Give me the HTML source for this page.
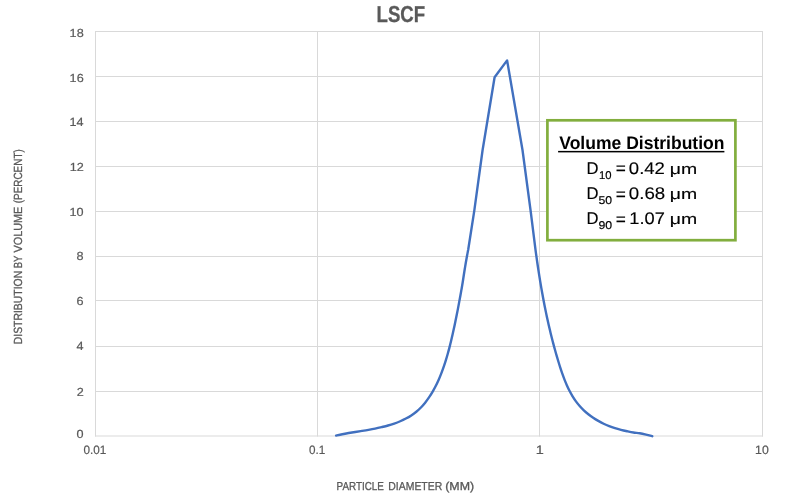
<!DOCTYPE html><html><head><meta charset="utf-8"><style>html,body{margin:0;padding:0;background:#fff;width:800px;height:495px;overflow:hidden}svg{display:block}text{font-family:"Liberation Sans",sans-serif;text-rendering:geometricPrecision}</style></head><body>
<svg width="800" height="495" viewBox="0 0 800 495">
<defs><filter id="gs" x="0" y="0" width="800" height="495" filterUnits="userSpaceOnUse"><feColorMatrix type="saturate" values="0"/></filter></defs>
<rect width="800" height="495" fill="#fff"/>
<path d="M95 31.5H763 M95 76.5H763 M95 121.5H763 M95 166.5H763 M95 211.5H763 M95 256.5H763 M95 300.5H763 M95 346.5H763 M95 391.5H763 M95 436.0H763 M95.5 31V436.5 M317.5 31V436.5 M539.5 31V436.5 M762.5 31V436.5" stroke="#d9d9d9" stroke-width="1" fill="none"/>
<path d="M336.09 435.56 C337.12 435.33 340.20 434.62 342.30 434.20 C344.40 433.78 346.54 433.41 348.70 433.04 C350.86 432.67 353.05 432.33 355.24 431.98 C357.43 431.63 359.65 431.30 361.86 430.94 C364.07 430.58 366.29 430.22 368.50 429.82 C370.71 429.42 372.93 429.01 375.12 428.56 C377.31 428.11 379.49 427.61 381.64 427.11 C383.79 426.60 385.93 426.10 388.03 425.51 C390.13 424.93 392.20 424.28 394.23 423.58 C396.26 422.87 398.25 422.11 400.20 421.27 C402.14 420.43 404.05 419.53 405.90 418.56 C407.75 417.58 409.54 416.54 411.28 415.41 C413.01 414.28 414.70 413.12 416.31 411.80 C417.92 410.49 419.45 409.03 420.93 407.51 C422.41 405.99 423.81 404.34 425.16 402.67 C426.51 400.99 427.78 399.23 429.01 397.43 C430.24 395.63 431.40 393.77 432.52 391.86 C433.63 389.96 434.69 388.00 435.70 386.00 C436.71 384.01 437.67 381.97 438.59 379.90 C439.51 377.83 440.38 375.71 441.21 373.59 C442.04 371.46 442.83 369.30 443.58 367.13 C444.33 364.97 445.05 362.77 445.73 360.58 C446.42 358.39 447.06 356.19 447.69 353.98 C448.31 351.78 448.91 349.57 449.48 347.37 C450.05 345.17 450.60 342.97 451.12 340.78 C451.64 338.58 452.14 336.39 452.63 334.21 C453.12 332.02 453.59 329.84 454.07 327.66 C454.54 325.48 455.02 323.29 455.48 321.11 C455.93 318.94 456.37 316.77 456.80 314.60 C457.23 312.43 457.65 310.28 458.06 308.12 C458.47 305.96 458.87 303.80 459.27 301.64 C459.67 299.48 460.06 297.32 460.45 295.16 C460.84 293.00 461.25 290.85 461.62 288.69 C462.00 286.53 462.36 284.37 462.71 282.21 C463.05 280.05 463.36 277.90 463.70 275.74 C464.03 273.58 464.37 271.41 464.72 269.25 C465.08 267.09 465.43 264.93 465.80 262.77 C466.18 260.61 466.56 258.44 466.95 256.27 C467.35 254.10 467.99 250.84 468.19 249.76 L474.3 210.6 L482.6 150 L494.6 77.2 L507.1 60.4 L522.5 150 L530.6 210.6 L535.51 249.87 C535.65 250.93 536.09 254.10 536.38 256.21 C536.67 258.32 536.97 260.42 537.28 262.52 C537.59 264.62 537.90 266.73 538.22 268.82 C538.54 270.91 538.86 273.00 539.19 275.09 C539.52 277.18 539.86 279.26 540.20 281.34 C540.54 283.42 540.89 285.50 541.25 287.58 C541.61 289.66 541.98 291.73 542.35 293.80 C542.73 295.87 543.11 297.94 543.50 300.01 C543.89 302.08 544.29 304.14 544.70 306.20 C545.11 308.26 545.52 310.32 545.95 312.38 C546.38 314.44 546.81 316.49 547.26 318.54 C547.71 320.59 548.17 322.65 548.64 324.70 C549.11 326.75 549.59 328.80 550.08 330.85 C550.57 332.90 551.07 334.94 551.58 336.99 C552.09 339.04 552.62 341.08 553.16 343.12 C553.70 345.16 554.26 347.21 554.82 349.25 C555.38 351.29 555.96 353.34 556.55 355.38 C557.14 357.42 557.75 359.46 558.37 361.50 C558.99 363.54 559.61 365.58 560.27 367.61 C560.93 369.64 561.60 371.67 562.31 373.67 C563.02 375.67 563.74 377.66 564.51 379.62 C565.28 381.58 566.09 383.53 566.94 385.43 C567.79 387.33 568.68 389.20 569.62 391.02 C570.56 392.84 571.55 394.64 572.60 396.37 C573.65 398.10 574.76 399.78 575.94 401.40 C577.12 403.02 578.36 404.59 579.67 406.08 C580.98 407.57 582.36 408.99 583.81 410.35 C585.25 411.71 586.78 413.00 588.34 414.24 C589.90 415.48 591.52 416.65 593.18 417.76 C594.84 418.87 596.55 419.92 598.29 420.91 C600.03 421.90 601.82 422.85 603.63 423.72 C605.44 424.59 607.29 425.41 609.18 426.15 C611.07 426.89 613.01 427.56 614.98 428.18 C616.95 428.80 618.95 429.34 620.98 429.86 C623.01 430.38 625.07 430.83 627.14 431.28 C629.21 431.73 631.30 432.20 633.40 432.54 C635.50 432.88 637.61 432.96 639.71 433.30 C641.81 433.64 643.92 434.12 646.02 434.60 C648.12 435.08 651.24 435.93 652.28 436.20" stroke="#4170bf" stroke-width="2.4" fill="none" stroke-linejoin="round" stroke-linecap="round"/>
<rect x="547.4" y="120.3" width="188" height="119.9" fill="#fff" stroke="#82ae3e" stroke-width="2.7"/>
<g filter="url(#gs)"><text transform="translate(69.61 36.85) scale(1.0750 1)" font-size="11.76" fill="#595959" stroke="#595959" stroke-width="0.2">18</text><text transform="translate(69.61 81.90) scale(1.0750 1)" font-size="11.76" fill="#595959" stroke="#595959" stroke-width="0.2">16</text><text transform="translate(69.42 126.00) scale(1.0596 1)" font-size="11.93" fill="#595959" stroke="#595959" stroke-width="0.2">14</text><text transform="translate(69.70 171.20) scale(1.0750 1)" font-size="11.76" fill="#595959" stroke="#595959" stroke-width="0.2">12</text><text transform="translate(69.55 215.85) scale(1.0750 1)" font-size="11.76" fill="#595959" stroke="#595959" stroke-width="0.2">10</text><text transform="translate(76.62 260.00) scale(1.0750 1)" font-size="11.76" fill="#595959" stroke="#595959" stroke-width="0.2">8</text><text transform="translate(76.62 305.20) scale(1.0750 1)" font-size="11.76" fill="#595959" stroke="#595959" stroke-width="0.2">6</text><text transform="translate(76.43 350.00) scale(1.0596 1)" font-size="11.93" fill="#595959" stroke="#595959" stroke-width="0.2">4</text><text transform="translate(76.72 396.05) scale(1.0750 1)" font-size="11.76" fill="#595959" stroke="#595959" stroke-width="0.2">2</text><text transform="translate(76.56 438.35) scale(1.0750 1)" font-size="11.76" fill="#595959" stroke="#595959" stroke-width="0.2">0</text><text transform="translate(83.53 454.20) scale(0.9745 1)" font-size="12.04" fill="#595959" stroke="#595959" stroke-width="0.2">0.01</text><text transform="translate(309.03 454.20) scale(0.9722 1)" font-size="12.04" fill="#595959" stroke="#595959" stroke-width="0.2">0.1</text><text transform="translate(755.08 454.20) scale(1.0197 1)" font-size="12.04" fill="#595959" stroke="#595959" stroke-width="0.2">10</text><text transform="translate(535.79 454.20) scale(1.1828 1)" font-size="12.22" fill="#595959" stroke="#595959" stroke-width="0.2">1</text><text transform="translate(376.54 21.70) scale(0.8104 1)" font-size="22.98" font-weight="bold" fill="#595959" stroke="#595959" stroke-width="0.3">LSCF</text><text transform="translate(336.59 489.80) scale(0.8586 1)" font-size="11.49" fill="#595959" stroke="#595959" stroke-width="0.3">PARTICLE</text><text transform="translate(388.34 489.80) scale(0.9070 1)" font-size="11.49" fill="#595959" stroke="#595959" stroke-width="0.3">DIAMETER</text><text transform="translate(445.22 489.80) scale(1.0802 1)" font-size="11.49" fill="#595959" stroke="#595959" stroke-width="0.3">(MM)</text><text transform="translate(21.70 344.26) rotate(-90) scale(0.8845 1)" font-size="11.78" fill="#595959" stroke="#595959" stroke-width="0.3">DISTRIBUTION</text><text transform="translate(21.70 268.28) rotate(-90) scale(0.8074 1)" font-size="11.78" fill="#595959" stroke="#595959" stroke-width="0.3">BY</text><text transform="translate(21.70 252.55) rotate(-90) scale(0.9230 1)" font-size="11.78" fill="#595959" stroke="#595959" stroke-width="0.3">VOLUME</text><text transform="translate(21.70 203.22) rotate(-90) scale(0.8424 1)" font-size="11.78" fill="#595959" stroke="#595959" stroke-width="0.3">(PERCENT)</text><text transform="translate(559.27 148.75) scale(0.9645 1)" font-size="18.18" font-weight="bold" fill="#000">Volume Distribution</text><rect x="558.1" y="150.9" width="166.3" height="1.5" fill="#000"/><text transform="translate(586.53 173.65) scale(0.9811 1)" font-size="16.95" fill="#000" stroke="#000" stroke-width="0.15">D</text><text transform="translate(598.90 178.55) scale(0.9958 1)" font-size="11.33" fill="#000" stroke="#000" stroke-width="0.18">10</text><text transform="translate(615.73 174.41) scale(0.9974 1)" font-size="17.36" fill="#000" stroke="#000" stroke-width="0.15">=</text><text transform="translate(628.86 173.65) scale(1.0962 1)" font-size="16.92" fill="#000" stroke="#000" stroke-width="0.15">0.42</text><text transform="translate(669.69 173.65) scale(1.2907 1)" font-size="15.07" fill="#000" stroke="#000" stroke-width="0.15">μm</text><text transform="translate(586.53 198.85) scale(0.9811 1)" font-size="16.95" fill="#000" stroke="#000" stroke-width="0.15">D</text><text transform="translate(598.51 203.75) scale(1.0775 1)" font-size="11.33" fill="#000" stroke="#000" stroke-width="0.18">50</text><text transform="translate(615.73 199.61) scale(0.9974 1)" font-size="17.36" fill="#000" stroke="#000" stroke-width="0.15">=</text><text transform="translate(628.85 198.85) scale(1.1044 1)" font-size="16.92" fill="#000" stroke="#000" stroke-width="0.15">0.68</text><text transform="translate(669.69 198.85) scale(1.2907 1)" font-size="15.07" fill="#000" stroke="#000" stroke-width="0.15">μm</text><text transform="translate(586.53 223.95) scale(0.9811 1)" font-size="16.95" fill="#000" stroke="#000" stroke-width="0.15">D</text><text transform="translate(598.42 228.85) scale(1.0853 1)" font-size="11.33" fill="#000" stroke="#000" stroke-width="0.18">90</text><text transform="translate(615.73 224.71) scale(0.9974 1)" font-size="17.36" fill="#000" stroke="#000" stroke-width="0.15">=</text><text transform="translate(629.33 223.95) scale(1.0815 1)" font-size="16.92" fill="#000" stroke="#000" stroke-width="0.15">1.07</text><text transform="translate(669.69 223.95) scale(1.2907 1)" font-size="15.07" fill="#000" stroke="#000" stroke-width="0.15">μm</text></g>
</svg></body></html>
